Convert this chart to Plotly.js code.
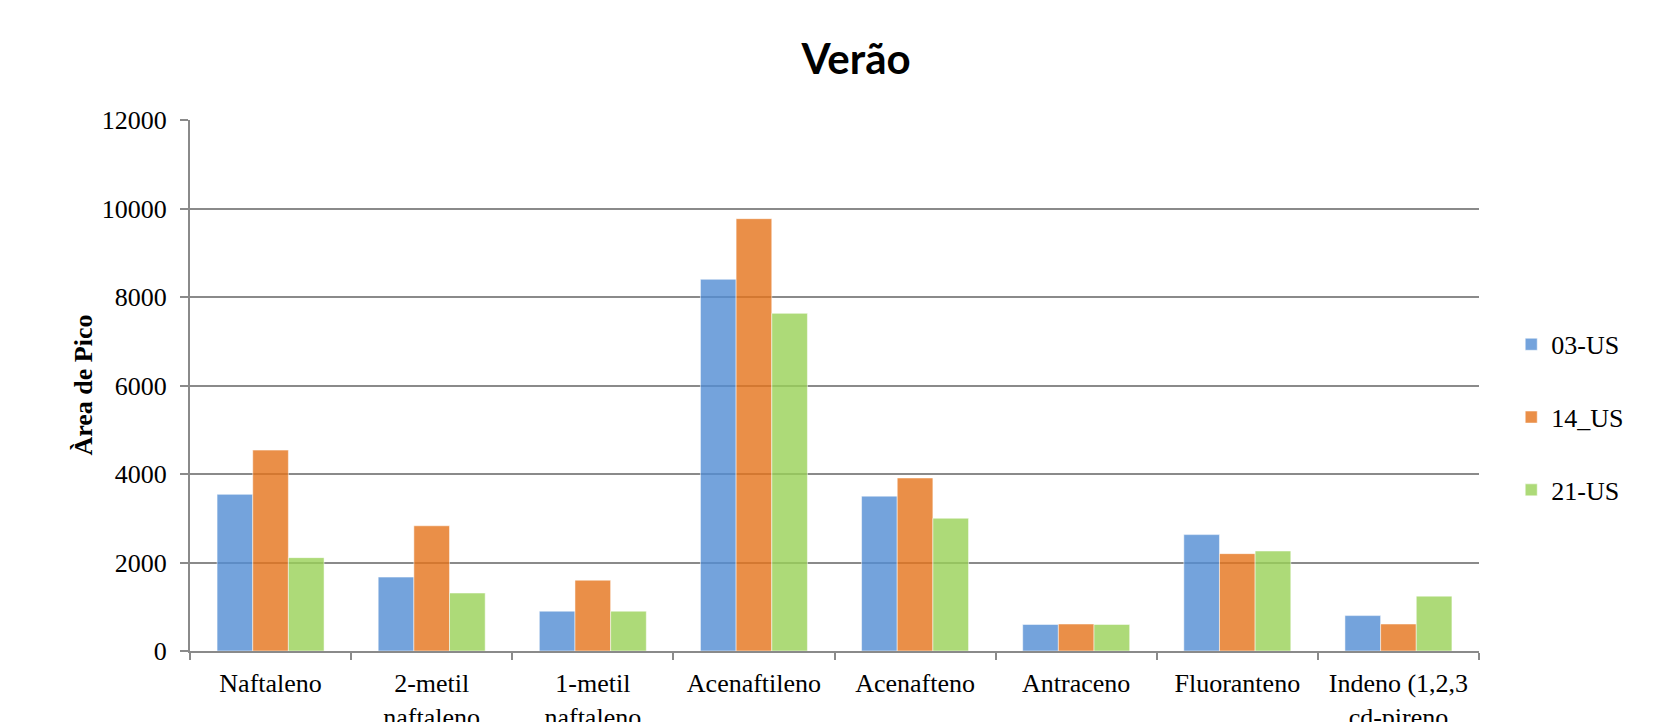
<!DOCTYPE html>
<html>
<head>
<meta charset="utf-8">
<script src="https://cdn.plot.ly/plotly-3.0.1.min.js"></script>
<style>
  html, body { margin: 0; padding: 0; background: #fff; }
  #chart { width: 1660px; height: 722px; }
</style>
</head>
<body>
<div id="chart"></div>
<script>
// Compound names (x categories)
const compostos = [
  'Naftaleno',
  '2-metil<br>naftaleno',
  '1-metil<br>naftaleno',
  'Acenaftileno',
  'Acenafteno',
  'Antraceno',
  'Fluoranteno',
  'Indeno (1,2,3<br>cd-pireno'
];

// Peak areas per sampling point
const serie03US = [3540, 1670, 900, 8400, 3500, 600, 2630, 800];
const serie14US = [4540, 2830, 1600, 9770, 3910, 610, 2200, 610];
const serie21US = [2110, 1310, 900, 7630, 3000, 600, 2260, 1240];

const nomes = ['03-US', '14_US', '21-US'];
const cores = ['rgba(81,140,211,0.8)', 'rgba(229,115,26,0.8)', 'rgba(153,209,86,0.8)'];
const series = [serie03US, serie14US, serie21US];

const serif = 'Liberation Serif';
const cinza = '#8a8a8a';

const traces = series.map((vals, i) => ({
  type: 'bar',
  name: nomes[i],
  legendgroup: nomes[i],
  x: compostos,
  y: vals,
  marker: { color: cores[i], line: { color: 'rgba(255,255,255,0.5)', width: 1 } },
  hoverinfo: 'x+y+name'
}));

const layout = {
  width: 1660,
  height: 722,
  font: { family: serif, size: 26, color: '#000' },
  paper_bgcolor: '#ffffff',
  plot_bgcolor: '#ffffff',
  margin: { l: 190, r: 181, t: 120, b: 71 },
  title: {
    text: '<b>Verão</b>',
    font: { family: 'Lato', size: 42, color: '#000' },
    xref: 'container', yref: 'container',
    x: 0.5157, xanchor: 'center',
    y: 0.918, yanchor: 'middle'
  },
  barmode: 'group',
  bargap: 0.336,
  bargroupgap: 0,
  showlegend: true,
  legend: {
    x: 1.025, xanchor: 'left',
    y: 0.44, yanchor: 'middle',
    tracegroupgap: 36,
    font: { family: serif, size: 26, color: '#000' },
    bgcolor: 'rgba(0,0,0,0)'
  },
  xaxis: {
    type: 'category',
    showline: true, linecolor: cinza, linewidth: 2,
    ticks: 'outside', tickson: 'boundaries', ticklen: 7, tickcolor: cinza, tickwidth: 2,
    ticklabelstandoff: 8,
    tickfont: { family: serif, size: 26, color: '#000' },
    showgrid: false, zeroline: false, fixedrange: true
  },
  yaxis: {
    range: [0, 12000], dtick: 2000, tick0: 0,
    tickformat: 'd',
    showline: true, linecolor: cinza, linewidth: 2,
    ticks: 'outside', ticklen: 8, tickcolor: cinza, tickwidth: 2,
    ticklabelstandoff: 8,
    tickfont: { family: serif, size: 26, color: '#000' },
    showgrid: true, gridcolor: cinza, gridwidth: 2,
    zeroline: false, fixedrange: true
  },
  annotations: [{
    text: '<b>Àrea de Pico</b>',
    xref: 'paper', yref: 'paper',
    x: -0.083, y: 0.5, xanchor: 'center', yanchor: 'middle',
    textangle: -90, showarrow: false,
    font: { family: serif, size: 26, color: '#000' }
  }]
};

Plotly.newPlot('chart', traces, layout, { displayModeBar: false, staticPlot: true });
</script>
</body>
</html>
